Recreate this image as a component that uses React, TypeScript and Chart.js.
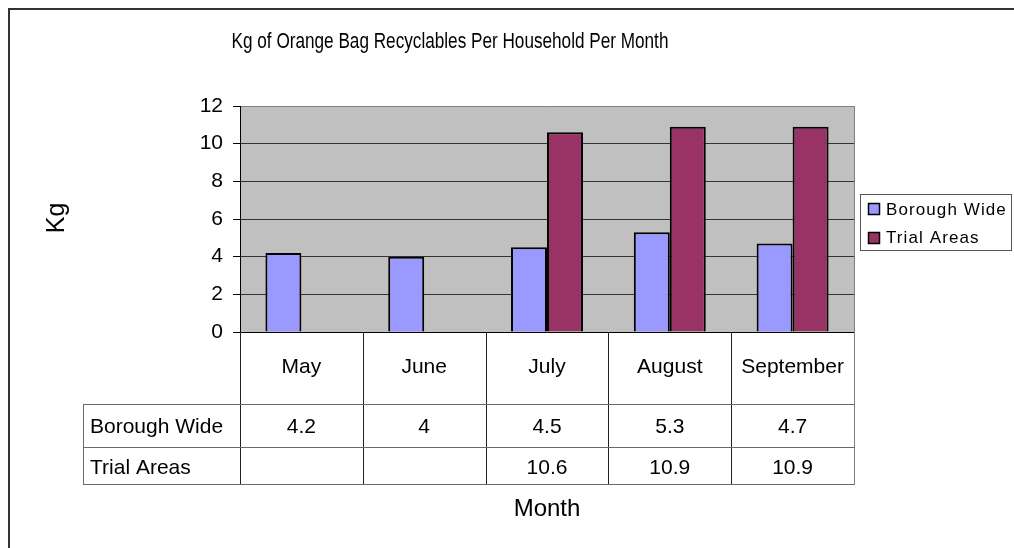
import React, { useEffect, useRef } from "react";
import { Chart, registerables } from "chart.js";

Chart.register(...registerables);

const chartTitle = "Kg of Orange Bag Recyclables Per Household Per Month";
const yAxisTitle = "Kg";
const xAxisTitle = "Month";
const months = ["May", "June", "July", "August", "September"];
const seriesNames = ["Borough Wide", "Trial Areas"];
const boroughWide: (number | null)[] = [4.2, 4, 4.5, 5.3, 4.7];
const trialAreas: (number | null)[] = [null, null, 10.6, 10.9, 10.9];
const yTicks = [0, 2, 4, 6, 8, 10, 12];
const seriesColors = ["#9999FF", "#993366"];

const FONT = "'Liberation Sans', Arial, Helvetica, sans-serif";

const excelPlugin = {
  id: "excelLook",
  beforeDraw(chart: any) {
    const { ctx, chartArea: a } = chart;
    ctx.save();
    ctx.fillStyle = "#ffffff";
    ctx.fillRect(0, 0, chart.width, chart.height);
    ctx.fillStyle = "#C0C0C0";
    ctx.fillRect(a.left, a.top, a.right - a.left, a.bottom - a.top);
    ctx.restore();
  },
  afterDraw(chart: any) {
    const { ctx, chartArea: a } = chart;
    const n = months.length;
    const w = (a.right - a.left) / n;
    const rowA = 404;
    const rowB = 447;
    const rowC = 484;
    const headLeft = 83;
    ctx.save();

    // frame of the whole chart (only left/top visible)
    ctx.strokeStyle = "#333";
    ctx.lineWidth = 2;
    ctx.beginPath();
    ctx.moveTo(9, 600);
    ctx.lineTo(9, 9);
    ctx.lineTo(1100, 9);
    ctx.stroke();

    // plot area right border
    ctx.lineWidth = 1;
    ctx.strokeStyle = "#808080";
    ctx.beginPath();
    ctx.moveTo(a.right + 0.5, a.top);
    ctx.lineTo(a.right + 0.5, rowC);
    ctx.stroke();

    // category separators in data table
    ctx.strokeStyle = "#222";
    for (let i = 0; i < n; i++) {
      const x = Math.round(a.left + i * w) + 0.5;
      ctx.beginPath();
      ctx.moveTo(x, a.bottom);
      ctx.lineTo(x, rowC);
      ctx.stroke();
    }
    // horizontal table lines
    ctx.strokeStyle = "#6a6a6a";
    for (const y of [rowA, rowB, rowC]) {
      ctx.beginPath();
      ctx.moveTo(headLeft, y + 0.5);
      ctx.lineTo(a.right + 1, y + 0.5);
      ctx.stroke();
    }
    ctx.beginPath();
    ctx.moveTo(headLeft + 0.5, rowA);
    ctx.lineTo(headLeft + 0.5, rowC + 1);
    ctx.stroke();

    // table text
    ctx.fillStyle = "#000";
    ctx.font = `21px ${FONT}`;
    ctx.textAlign = "center";
    ctx.textBaseline = "alphabetic";
    const xs = chart.scales.x;
    months.forEach((m, i) => {
      const cx = xs.getPixelForValue(i);
      ctx.fillText(m, cx, 373);
      const b = boroughWide[i];
      const t = trialAreas[i];
      if (b !== null) ctx.fillText(String(b), cx, 433);
      if (t !== null) ctx.fillText(String(t), cx, 474);
    });
    ctx.textAlign = "left";
    ctx.fillText(seriesNames[0], 90, 433);
    ctx.fillText(seriesNames[1], 90, 474);

    // title (condensed look)
    ctx.save();
    ctx.translate(450, 48);
    ctx.scale(0.78, 1);
    ctx.textAlign = "center";
    ctx.font = `22px ${FONT}`;
    ctx.fillText(chartTitle, 0, 0);
    ctx.restore();

    // x axis title
    ctx.textAlign = "center";
    ctx.font = `24px ${FONT}`;
    ctx.fillText(xAxisTitle, 547, 516);

    // y axis title
    ctx.save();
    ctx.translate(64, 218);
    ctx.rotate(-Math.PI / 2);
    ctx.font = `25px ${FONT}`;
    ctx.textAlign = "center";
    ctx.fillText(yAxisTitle, 0, 0);
    ctx.restore();

    // legend
    ctx.strokeStyle = "#555";
    ctx.lineWidth = 1;
    ctx.strokeRect(860.5, 194.5, 151, 56);
    const ly = [203.5, 232.5];
    const ty = [215, 243];
    seriesNames.forEach((s, i) => {
      ctx.fillStyle = seriesColors[i];
      ctx.fillRect(868.5, ly[i], 11, 11);
      ctx.strokeStyle = "#000";
      ctx.lineWidth = 1.5;
      ctx.strokeRect(868.5, ly[i], 11, 11);
      ctx.fillStyle = "#000";
      ctx.font = `17px ${FONT}`;
      (ctx as any).letterSpacing = "1.1px";
      ctx.textAlign = "left";
      ctx.fillText(s, 886, ty[i]);
      (ctx as any).letterSpacing = "0px";
    });

    ctx.restore();
  },
};

export default function App() {
  const ref = useRef<HTMLCanvasElement>(null);
  useEffect(() => {
    if (!ref.current) return;
    const chart = new Chart(ref.current, {
      type: "bar",
      data: {
        labels: months,
        datasets: [
          {
            label: seriesNames[0],
            data: boroughWide,
            backgroundColor: seriesColors[0],
            borderColor: "#000",
            borderWidth: 2,
            categoryPercentage: 0.586,
            barPercentage: 1,
          },
          {
            label: seriesNames[1],
            data: trialAreas,
            backgroundColor: seriesColors[1],
            borderColor: "#000",
            borderWidth: 2,
            categoryPercentage: 0.586,
            barPercentage: 1,
          },
        ],
      },
      options: {
        responsive: false,
        animation: false,
        devicePixelRatio: 1,
        layout: { padding: { left: 0, top: 106, right: 160, bottom: 216 } },
        plugins: {
          legend: { display: false },
          title: { display: false },
          tooltip: { enabled: false },
        },
        scales: {
          x: {
            ticks: { display: false },
            grid: { display: false },
            border: { display: false },
            afterFit: (s: any) => {
              s.height = 0;
            },
          },
          y: {
            min: 0,
            max: 12,
            afterBuildTicks: (s: any) => {
              s.ticks = yTicks.map((v) => ({ value: v }));
            },
            afterFit: (s: any) => {
              s.width = 240;
            },
            ticks: {
              color: "#000",
              font: { family: FONT, size: 21 },
              padding: 10,
            },
            grid: {
              color: (c: any) => (c.tick && c.tick.value === 12 ? "#808080" : c.tick && c.tick.value === 0 ? "#000" : "#333"),
              tickColor: "#000",
              tickLength: 7,
              lineWidth: 1,
            },
            border: { display: true, color: "#000", width: 1 },
          },
        },
      },
      plugins: [excelPlugin],
    });
    return () => chart.destroy();
  }, []);
  return (
    <div
      style={{
        position: "fixed",
        left: 0,
        top: 0,
        width: 1014,
        height: 548,
        overflow: "hidden",
        background: "#fff",
      }}
    >
      <canvas ref={ref} width={1014} height={548} style={{ display: "block" }} />
    </div>
  );
}
